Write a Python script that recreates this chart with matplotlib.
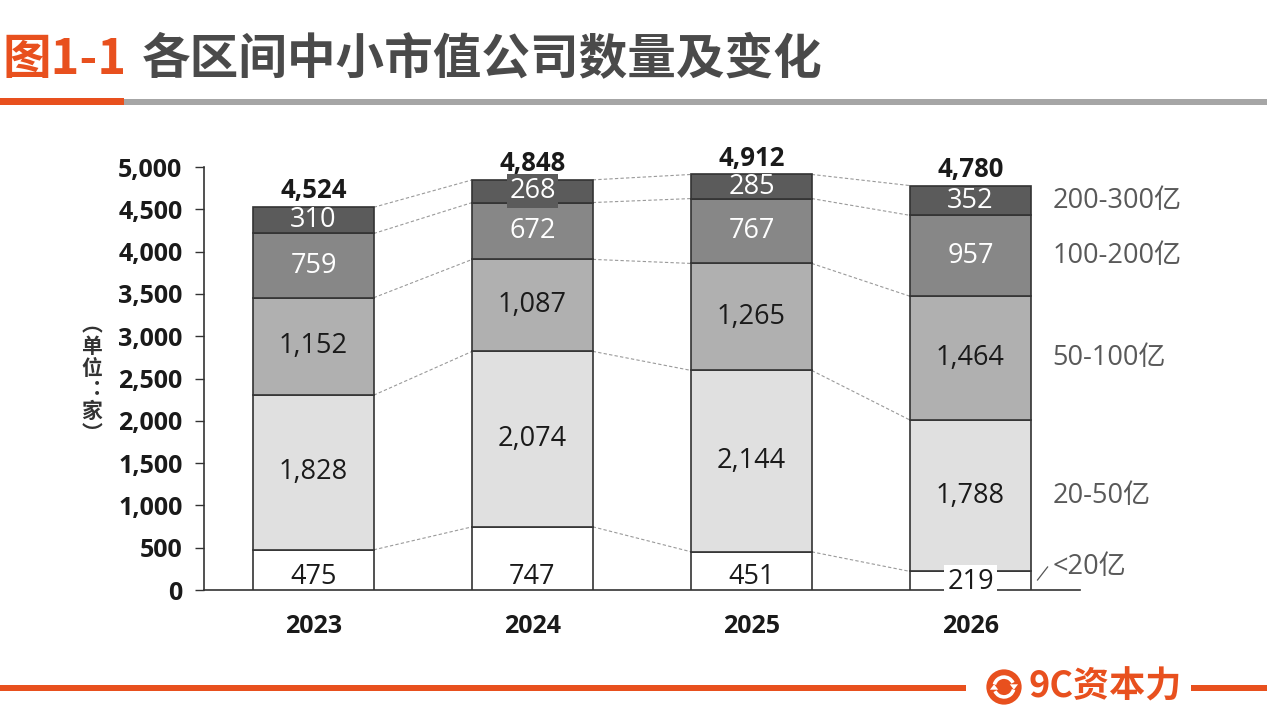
import matplotlib
matplotlib.use("Agg")
import matplotlib.pyplot as plt
from matplotlib.patches import Circle, Arc, Rectangle, Polygon
import numpy as np

# ---------------- data ----------------
years = ["2023", "2024", "2025", "2026"]
seg_names = ["<20亿", "20-50亿", "50-100亿", "100-200亿", "200-300亿"]
lt20 = [475, 747, 451, 219]
s20_50 = [1828, 2074, 2144, 1788]
s50_100 = [1152, 1087, 1265, 1464]
s100_200 = [759, 672, 767, 957]
s200_300 = [310, 268, 285, 352]
totals = [4524, 4848, 4912, 4780]
yticks = [0, 500, 1000, 1500, 2000, 2500, 3000, 3500, 4000, 4500, 5000]

series = [lt20, s20_50, s50_100, s100_200, s200_300]
colors = ["#ffffff", "#e0e0e0", "#b0b0b0", "#878787", "#5b5b5b"]
txt_colors = ["#1a1a1a", "#1a1a1a", "#1a1a1a", "#ffffff", "#ffffff"]

ORANGE = "#e8501e"
W, H = 1267, 713
LAT = ["Open Sans", "Noto Sans CJK SC", "DejaVu Sans"]
CJK = ["Noto Sans CJK SC", "DejaVu Sans"]
plt.rcParams["font.family"] = LAT

fig = plt.figure(figsize=(W / 100, H / 100), dpi=100)
fig.patch.set_facecolor("white")


def fx(x):
    return x / W


def fy(y):
    return 1 - y / H


# ---------------- main axes ----------------
ax_l, ax_r, ax_t, ax_b = 204, 1080, 167, 590
ax = fig.add_axes([fx(ax_l), fy(ax_b), (ax_r - ax_l) / W, (ax_b - ax_t) / H])
ax.set_xlim(-0.5, 3.5)
ax.set_ylim(0, 5000)

x = np.arange(len(years))
bw = 0.55
bottoms = np.zeros(len(years))
cums = []
for i, vals in enumerate(series):
    vals = np.array(vals, dtype=float)
    ax.bar(x, vals, bw, bottom=bottoms, color=colors[i], edgecolor="#333333",
           linewidth=1.2, zorder=3)
    for j in range(len(years)):
        cy = bottoms[j] + vals[j] / 2
        if i == 0:
            cy = bottoms[j] + min(vals[j] / 2, 170) - 20 if vals[j] > 300 else cy - 12
        bbox = None
        if i == 0 and vals[j] < 300:
            bbox = dict(boxstyle="square,pad=0.1", fc="white", ec="none")
        if i == 4 and vals[j] < 280:
            bbox = dict(boxstyle="square,pad=0.1", fc=colors[i], ec="none")
        ax.text(x[j], cy, f"{int(vals[j]):,}", ha="center", va="center",
                fontsize=19.5, color=txt_colors[i], zorder=6, bbox=bbox)
    bottoms = bottoms + vals
    cums.append(bottoms.copy())

# dashed connectors between bars
for lvl in cums:
    for j in range(len(years) - 1):
        ax.plot([x[j] + bw / 2, x[j + 1] - bw / 2], [lvl[j], lvl[j + 1]],
                color="#9a9a9a", lw=0.8, ls=(0, (3, 2)), zorder=2)

# totals
for j in range(len(years)):
    ax.annotate(f"{totals[j]:,}", (x[j], totals[j]), xytext=(0, 2),
                textcoords="offset points", ha="center", va="bottom",
                fontsize=18.5, fontweight="bold", color="#1a1a1a")

# right-hand category labels at 2026 segment centres
last = len(years) - 1
lab_x = 3.375
prev = 0
for i, name in enumerate(seg_names):
    top = cums[i][last]
    cy = (prev + top) / 2
    prev = top
    if i == 0:
        cy = 272
        ax.plot([3.306, 3.352], [118, 272], color="#555555", lw=0.9, clip_on=False)
    ax.text(lab_x, cy, name, ha="left", va="center", fontsize=19.5,
            color="#595959", clip_on=False, family=LAT)

# axes styling
ax.set_xticks(x)
ax.set_xticklabels(years, fontsize=18, fontweight="bold", color="#1a1a1a")
ax.set_yticks(yticks)
ax.set_yticklabels([f"{v:,}" for v in yticks], fontsize=18, fontweight="bold",
                   color="#1a1a1a")
ax.tick_params(axis="x", length=0, pad=17)
ax.tick_params(axis="y", length=6.5, width=1, color="#333333", pad=9, direction="out")
for s in ["top", "right"]:
    ax.spines[s].set_visible(False)
for s in ["left", "bottom"]:
    ax.spines[s].set_color("#333333")
    ax.spines[s].set_linewidth(1.2)
ax.set_facecolor("none")

# y-axis unit label (vertical)
fig.text(fx(92), fy(379), "︵\n单\n位\n︓\n家\n︶", ha="center", va="center",
         fontsize=15, fontweight="bold", color="#333333", family=CJK,
         linespacing=1.05, multialignment="center")

# ---------------- title ----------------
fig.text(fx(2), fy(60), "图1-1", ha="left", va="center", fontsize=35,
         fontweight="bold", color=ORANGE, family=CJK)
fig.text(fx(142), fy(60), "各区间中小市值公司数量及变化", ha="left", va="center",
         fontsize=35, fontweight="bold", color="#4a4a4a", family=CJK)

# title underline
fig.add_artist(Rectangle((fx(0), fy(105)), fx(124), 7 / H, transform=fig.transFigure,
                         color=ORANGE, lw=0))
fig.add_artist(Rectangle((fx(124), fy(105)), fx(W - 124), 6 / H,
                         transform=fig.transFigure, color="#a6a6a6", lw=0))

# ---------------- footer ----------------
fig.add_artist(Rectangle((fx(0), fy(691)), fx(966), 6 / H, transform=fig.transFigure,
                         color=ORANGE, lw=0))
fig.add_artist(Rectangle((fx(1191), fy(691)), fx(W - 1191), 6 / H,
                         transform=fig.transFigure, color=ORANGE, lw=0))

# logo: circle with white circular arrows (drawn in a small square axes)
lax = fig.add_axes([fx(986), fy(705), 36 / W, 36 / H])
lax.set_xlim(-1, 1)
lax.set_ylim(-1, 1)
lax.set_aspect("equal")
lax.axis("off")
lax.add_patch(Circle((0, 0), 0.98, color=ORANGE, lw=0))
lax.add_patch(Arc((0, 0), 1.1, 1.1, theta1=25, theta2=165, color="white", lw=2.6))
lax.add_patch(Arc((0, 0), 1.1, 1.1, theta1=205, theta2=345, color="white", lw=2.6))
lax.add_patch(Polygon([[0.32, 0.15], [0.78, 0.15], [0.55, -0.15]], closed=True,
                      color="white", lw=0))
lax.add_patch(Polygon([[-0.32, -0.15], [-0.78, -0.15], [-0.55, 0.15]], closed=True,
                      color="white", lw=0))

fig.text(fx(1029), fy(687), "9C资本力", ha="left", va="center", fontsize=26,
         fontweight="bold", color=ORANGE, family=CJK)

fig.savefig("out.png", dpi=100, facecolor="white")
